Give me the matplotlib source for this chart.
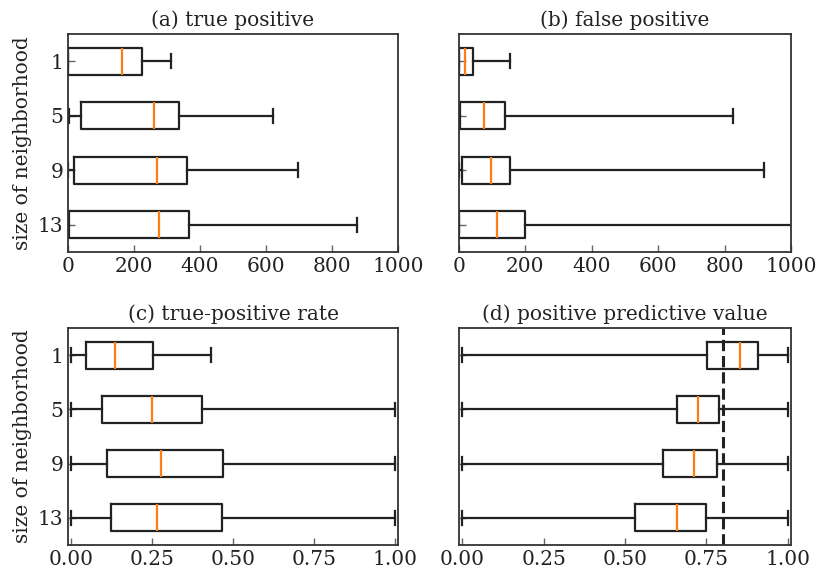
import matplotlib
matplotlib.use("Agg")
import matplotlib.pyplot as plt

plt.rcParams['font.family'] = ['DejaVu Serif']

sizes = ["1", "5", "9", "13"]

# five-number summaries per neighbourhood size: (whislo, q1, med, q3, whishi)
tp_lo = [0, 2, 0, 0]
tp_q1 = [0, 39, 19, 2]
tp_med = [163, 260, 270, 276]
tp_q3 = [225, 335, 361, 366]
tp_hi = [311, 622, 698, 877]

fp_lo = [0, 0, 0, 0]
fp_q1 = [0, 3, 10, 0]
fp_med = [17, 74, 97, 114]
fp_q3 = [43, 138, 154, 198]
fp_hi = [153, 825, 920, 1150]

tpr_lo = [0.0, 0.0, 0.0, 0.0]
tpr_q1 = [0.045, 0.096, 0.111, 0.124]
tpr_med = [0.136, 0.251, 0.278, 0.264]
tpr_q3 = [0.253, 0.405, 0.469, 0.467]
tpr_hi = [0.433, 1.0, 1.0, 1.0]

ppv_lo = [0.0, 0.0, 0.0, 0.0]
ppv_q1 = [0.752, 0.659, 0.616, 0.532]
ppv_med = [0.853, 0.725, 0.711, 0.660]
ppv_q3 = [0.910, 0.789, 0.783, 0.750]
ppv_hi = [1.0, 1.0, 1.0, 1.0]

ppv_threshold = 0.8

titles = ["(a) true positive", "(b) false positive",
          "(c) true-positive rate", "(d) positive predictive value"]


def make_stats(lo, q1, med, q3, hi):
    return [dict(whislo=a, q1=b, med=c, q3=d, whishi=e, fliers=[], label=s)
            for a, b, c, d, e, s in zip(lo, q1, med, q3, hi, sizes)]


panels = [
    make_stats(tp_lo, tp_q1, tp_med, tp_q3, tp_hi),
    make_stats(fp_lo, fp_q1, fp_med, fp_q3, fp_hi),
    make_stats(tpr_lo, tpr_q1, tpr_med, tpr_q3, tpr_hi),
    make_stats(ppv_lo, ppv_q1, ppv_med, ppv_q3, ppv_hi),
]

fig = plt.figure(figsize=(8.16, 5.71), dpi=100)
W, H = 816, 571
rects = [(68, 34, 398, 252), (459, 34, 791, 252),
         (68, 328, 398, 545), (459, 328, 791, 545)]

fs = 14.5
lw = 1.6
ink = "#222222"
for i, (stats, title, (x0, y0, x1, y1)) in enumerate(zip(panels, titles, rects)):
    ax = fig.add_axes([x0 / W, 1 - y1 / H, (x1 - x0) / W, (y1 - y0) / H])
    ax.bxp(stats, positions=[1, 2, 3, 4], vert=False, widths=0.5,
           showfliers=False,
           boxprops=dict(color=ink, linewidth=lw),
           whiskerprops=dict(color=ink, linewidth=lw),
           capprops=dict(color=ink, linewidth=lw),
           medianprops=dict(color="#ff7f0e", linewidth=lw))
    ax.set_ylim(4.5, 0.5)
    if i < 2:
        ax.set_xlim(0, 1000)
        ax.set_xticks([0, 200, 400, 600, 800, 1000])
    else:
        ax.set_xlim(-0.01, 1.01)
        ax.set_xticks([0.0, 0.25, 0.5, 0.75, 1.0])
        ax.set_xticklabels(["0.00", "0.25", "0.50", "0.75", "1.00"])
    if i == 3:
        ax.axvline(ppv_threshold, color=ink, linestyle="--", linewidth=2.2)
    ax.set_yticks([1, 2, 3, 4])
    if i % 2 == 0:
        ax.set_yticklabels(sizes)
        ax.set_ylabel("size of neighborhood", fontsize=fs, color=ink)
    else:
        ax.set_yticklabels([])
    ax.tick_params(direction="in", labelsize=fs, length=5, width=1,
                   color="#666666", labelcolor=ink)
    ax.set_title(title, fontsize=fs, color=ink)
    for sp in ax.spines.values():
        sp.set_linewidth(1.3)
        sp.set_color("#333333")

fig.savefig("out.png", dpi=100)
